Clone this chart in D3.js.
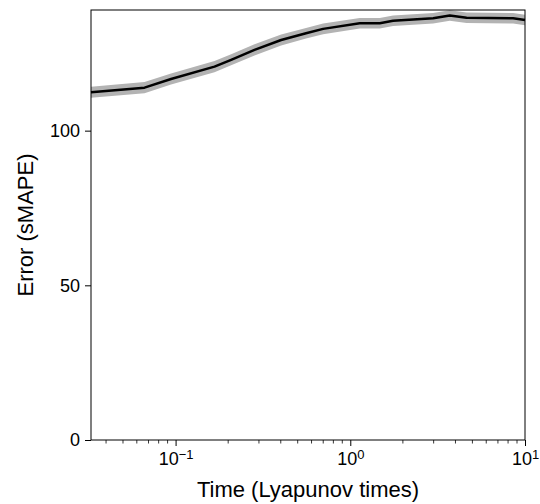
<!DOCTYPE html>
<html>
<head>
<meta charset="utf-8">
<script src="https://cdn.jsdelivr.net/npm/d3@7"></script>
<style>
  body { margin: 0; background: #fff; }
  svg text { font-family: "Liberation Sans", Arial, sans-serif; fill: #000; }
</style>
</head>
<body>
<div id="chart"></div>
<script>
// sMAPE-Fehler über die Zeit (Lyapunov-Zeiten), log-x

const times  = [0.0328, 0.0664, 0.0942, 0.167, 0.208, 0.283, 0.402, 0.558, 0.699, 1.133, 1.475, 1.758, 2.98, 3.71, 4.63, 8.55, 10];
const errors = [112.4, 113.9, 116.7, 120.7, 122.9, 126.1, 129.3, 131.5, 132.9, 134.7, 134.7, 135.5, 136.3, 137.2, 136.5, 136.3, 135.8];
const spread = [1.8, 1.8, 1.8, 1.8, 1.8, 1.8, 1.8, 1.7, 1.7, 1.7, 1.7, 1.7, 1.7, 1.7, 1.7, 1.7, 1.7];
const yTicks = [0, 50, 100];
const xTicks = [0.1, 1, 10];
const xExp   = ["\u22121", "0", "1"];

const W = 540, H = 504, M = { top: 10, right: 15, bottom: 64, left: 91 };

const svg = d3.select("#chart").append("svg").attr("width", W).attr("height", H);

const x = d3.scaleLog().domain([0.0328, 10]).range([M.left, W - M.right]);
const y = d3.scaleLinear().domain([0, 139]).range([H - M.bottom, M.top]);

const data = times.map((t, i) => ({ t, v: errors[i], s: spread[i] }));

// Band
svg.append("path")
  .datum(data)
  .attr("fill", "#b3b3b3")
  .attr("d", d3.area().x(d => x(d.t)).y0(d => y(d.v - d.s)).y1(d => y(d.v + d.s)));

// Linie
svg.append("path")
  .datum(data)
  .attr("fill", "none")
  .attr("stroke", "#000")
  .attr("stroke-width", 2.5)
  .attr("stroke-linejoin", "round")
  .attr("d", d3.line().x(d => x(d.t)).y(d => y(d.v)));

// Rahmen
svg.append("rect")
  .attr("x", M.left).attr("y", M.top)
  .attr("width", W - M.right - M.left).attr("height", H - M.bottom - M.top)
  .attr("fill", "none").attr("stroke", "#000").attr("stroke-width", 1);

// y-Achse
svg.append("g").attr("transform", `translate(${M.left},0)`)
  .call(d3.axisLeft(y).tickValues(yTicks).tickSize(6).tickPadding(5))
  .call(g => g.select(".domain").remove())
  .call(g => g.selectAll("text").style("font-size", "18px"));

// x-Achse (Major)
const xAxis = svg.append("g").attr("transform", `translate(0,${H - M.bottom})`)
  .call(d3.axisBottom(x).tickValues(xTicks).tickSize(6).tickPadding(6).tickFormat(""))
  .call(g => g.select(".domain").remove());

xAxis.selectAll(".tick text").each(function(d, i) {
  const t = d3.select(this).style("font-size", "18px");
  t.append("tspan").text("10");
  t.append("tspan").attr("dy", "-0.45em").style("font-size", "13px").text(xExp[i]);
});

// Minor ticks
const minor = [];
[0.01, 0.1, 1].forEach(b => { for (let k = 2; k <= 9; k++) minor.push(b * k); });
svg.append("g").attr("transform", `translate(0,${H - M.bottom})`)
  .selectAll("line").data(minor.filter(v => v >= 0.0328 && v <= 10)).join("line")
  .attr("x1", d => x(d)).attr("x2", d => x(d))
  .attr("y1", 0).attr("y2", 3.5)
  .attr("stroke", "#000").attr("stroke-width", 0.8);

// Achsenbeschriftungen
svg.append("text")
  .attr("x", (M.left + W - M.right) / 2).attr("y", 497)
  .attr("text-anchor", "middle").style("font-size", "22px")
  .text("Time (Lyapunov times)");

svg.append("text")
  .attr("transform", `translate(33,${(M.top + H - M.bottom) / 2}) rotate(-90)`)
  .attr("text-anchor", "middle").style("font-size", "22px")
  .text("Error (sMAPE)");
</script>
</body>
</html>
